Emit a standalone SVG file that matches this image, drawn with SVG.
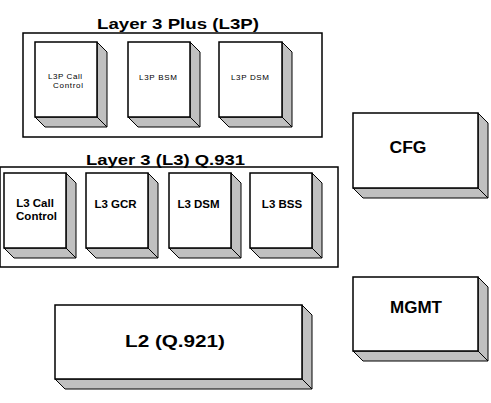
<svg xmlns="http://www.w3.org/2000/svg" width="491" height="403" viewBox="0 0 491 403">
<style>
.frame{fill:none;stroke:#000;stroke-width:1.5}
.front{fill:#fff;stroke:#000;stroke-width:1.5}
.shade{fill:#c0c0c0;stroke:#000;stroke-width:1;stroke-linejoin:round}
.title{font-family:"Liberation Sans",Arial,sans-serif;font-weight:bold;font-size:15px;text-anchor:middle;fill:#000}
.big{font-family:"Liberation Sans",Arial,sans-serif;font-weight:bold;font-size:16px;text-anchor:middle;fill:#000}
.mid{font-family:"Liberation Sans",Arial,sans-serif;font-weight:bold;font-size:11.5px;text-anchor:middle;fill:#000}
.small{font-family:"Liberation Sans",Arial,sans-serif;font-size:8px;text-anchor:middle;fill:#000}
</style>
<rect width="491" height="403" fill="#fff"/>
<g id="frame-l3p">
<rect class="frame" x="23" y="33" width="299" height="104"/>
<text class="title" x="178" y="29" textLength="162" lengthAdjust="spacingAndGlyphs">Layer 3 Plus  (L3P)</text>
</g>
<g id="frame-l3">
<rect class="frame" x="0" y="167" width="338" height="100"/>
<text class="title" x="165.5" y="165" textLength="159" lengthAdjust="spacingAndGlyphs">Layer 3  (L3) Q.931</text>
</g>
<g id="l3p-call">
<polygon class="shade" points="97,42 107,52 107,127 97,117"/>
<polygon class="shade" points="35,117 97,117 107,127 45,127"/>
<rect class="front" x="35" y="42" width="62" height="75"/>
<text class="small" x="65" y="79" textLength="34" lengthAdjust="spacing">L3P Call</text>
<text class="small" x="68" y="88" textLength="30" lengthAdjust="spacing">Control</text>
</g>
<g id="l3p-bsm">
<polygon class="shade" points="190,42 200,52 200,127 190,117"/>
<polygon class="shade" points="128,117 190,117 200,127 138,127"/>
<rect class="front" x="128" y="42" width="62" height="75"/>
<text class="small" x="158" y="80" textLength="38" lengthAdjust="spacing">L3P BSM</text>
</g>
<g id="l3p-dsm">
<polygon class="shade" points="282,42 292,52 292,127 282,117"/>
<polygon class="shade" points="219,117 282,117 292,127 229,127"/>
<rect class="front" x="219" y="42" width="63" height="75"/>
<text class="small" x="250" y="80" textLength="38" lengthAdjust="spacing">L3P DSM</text>
</g>
<g id="l3-call">
<polygon class="shade" points="66,173 76,183 76,258 66,248"/>
<polygon class="shade" points="4,248 66,248 76,258 14,258"/>
<rect class="front" x="4" y="173" width="62" height="75"/>
<text class="mid" x="35" y="207">L3 Call</text>
<text class="mid" x="36.5" y="220">Control</text>
</g>
<g id="l3-gcr">
<polygon class="shade" points="148,173 158,183 158,258 148,248"/>
<polygon class="shade" points="86,248 148,248 158,258 96,258"/>
<rect class="front" x="86" y="173" width="62" height="75"/>
<text class="mid" x="115.5" y="208">L3 GCR</text>
</g>
<g id="l3-dsm">
<polygon class="shade" points="231,173 241,183 241,258 231,248"/>
<polygon class="shade" points="169,248 231,248 241,258 179,258"/>
<rect class="front" x="169" y="173" width="62" height="75"/>
<text class="mid" x="198.5" y="208">L3 DSM</text>
</g>
<g id="l3-bss">
<polygon class="shade" points="312,173 322,183 322,258 312,248"/>
<polygon class="shade" points="250,248 312,248 322,258 260,258"/>
<rect class="front" x="250" y="173" width="62" height="75"/>
<text class="mid" x="282" y="208">L3 BSS</text>
</g>
<g id="cfg">
<polygon class="shade" points="478,113 488,123 488,198 478,188"/>
<polygon class="shade" points="353,188 478,188 488,198 363,198"/>
<rect class="front" x="353" y="113" width="125" height="75"/>
<text class="big" x="408" y="153" textLength="37" lengthAdjust="spacingAndGlyphs">CFG</text>
</g>
<g id="mgmt">
<polygon class="shade" points="478,277 488,287 488,361 478,351"/>
<polygon class="shade" points="353,351 478,351 488,361 363,361"/>
<rect class="front" x="353" y="277" width="125" height="74"/>
<text class="big" x="416" y="313" textLength="52" lengthAdjust="spacingAndGlyphs">MGMT</text>
</g>
<g id="l2">
<polygon class="shade" points="302,305 312,315 312,389 302,379"/>
<polygon class="shade" points="55,379 302,379 312,389 65,389"/>
<rect class="front" x="55" y="305" width="247" height="74"/>
<text class="big" x="175" y="347" textLength="100" lengthAdjust="spacingAndGlyphs">L2 (Q.921)</text>
</g>
<g id="connectors"></g>
</svg>
